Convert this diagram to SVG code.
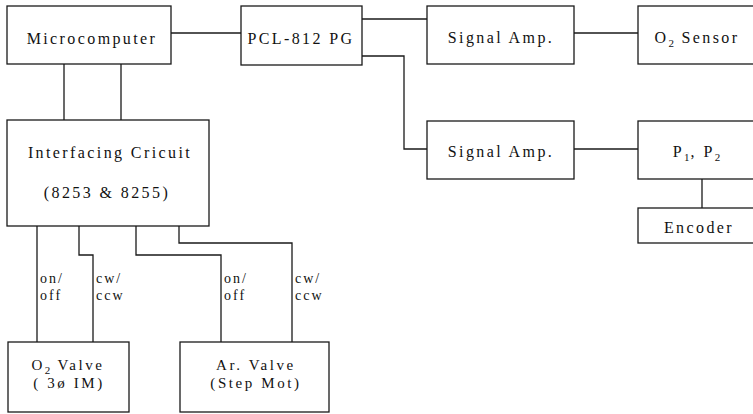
<svg xmlns="http://www.w3.org/2000/svg" width="753" height="414" viewBox="0 0 753 414">
<style>
.box{fill:#fff;stroke:#1a1a1a;stroke-width:1.3}
.ln{fill:none;stroke:#1a1a1a;stroke-width:1.3}
.t{font-family:"Liberation Serif","Times New Roman",serif;font-size:16px;fill:#111;text-anchor:middle;letter-spacing:2.4px}
.v{font-size:15px;letter-spacing:2.6px}
.s{font-family:"Liberation Serif","Times New Roman",serif;font-size:14px;fill:#111;letter-spacing:2px}
.sub{font-size:11px;letter-spacing:1px}
</style>
<rect width="753" height="414" fill="#fff"/>
<g id="connectors">
<path class="ln" d="M171 33H241"/>
<path class="ln" d="M362 19H427"/>
<path class="ln" d="M362 56H404V149H427"/>
<path class="ln" d="M574 33H638"/>
<path class="ln" d="M574 149H638"/>
<path class="ln" d="M702 179V208"/>
<path class="ln" d="M64 64V120M121 64V120"/>
<path class="ln" d="M37 226V342"/>
<path class="ln" d="M79 226V255H93V342"/>
<path class="ln" d="M136 226V255H221V342"/>
<path class="ln" d="M179 226V243H292V342"/>
<text class="s" x="40" y="283">on/</text>
<text class="s" x="40" y="300">off</text>
<text class="s" x="96" y="283">cw/</text>
<text class="s" x="96" y="300">ccw</text>
<text class="s" x="224" y="283">on/</text>
<text class="s" x="224" y="300">off</text>
<text class="s" x="295" y="283">cw/</text>
<text class="s" x="295" y="300">ccw</text>
</g>
<g id="microcomputer"><rect class="box" x="7" y="6" width="164" height="58"/><text class="t" x="92" y="44">Microcomputer</text></g>
<g id="pcl812"><rect class="box" x="241" y="6" width="121" height="59"/><text class="t" x="301" y="44">PCL-812 PG</text></g>
<g id="signalamp1"><rect class="box" x="427" y="6" width="147" height="58"/><text class="t" x="501" y="43">Signal Amp.</text></g>
<g id="o2sensor"><rect class="box" x="638" y="6" width="120" height="58"/><text class="t" x="697" y="43">O<tspan class="sub" dy="4">2</tspan><tspan dy="-4"> Sensor</tspan></text></g>
<g id="signalamp2"><rect class="box" x="427" y="121" width="147" height="58"/><text class="t" x="501" y="157">Signal Amp.</text></g>
<g id="p1p2"><rect class="box" x="638" y="121" width="120" height="58"/><text class="t" x="697" y="157">P<tspan class="sub" dy="4">1</tspan><tspan dy="-4">, P</tspan><tspan class="sub" dy="4">2</tspan></text></g>
<g id="encoder"><rect class="box" x="638" y="208" width="120" height="35"/><text class="t" x="699" y="233">Encoder</text></g>
<g id="interfacing"><rect class="box" x="7" y="120" width="202" height="106"/><text class="t" x="110" y="158">Interfacing Cricuit</text><text class="t" x="107" y="198">(8253 &amp; 8255)</text></g>
<g id="o2valve"><rect class="box" x="8" y="342" width="121" height="70"/><text class="t v" x="68" y="370">O<tspan class="sub" dy="4">2</tspan><tspan dy="-4">  Valve</tspan></text><text class="t v" x="69" y="388">( 3ø IM)</text></g>
<g id="arvalve"><rect class="box" x="180" y="342" width="149" height="70"/><text class="t v" x="256" y="370">Ar. Valve</text><text class="t v" x="256" y="388">(Step Mot)</text></g>
</svg>
